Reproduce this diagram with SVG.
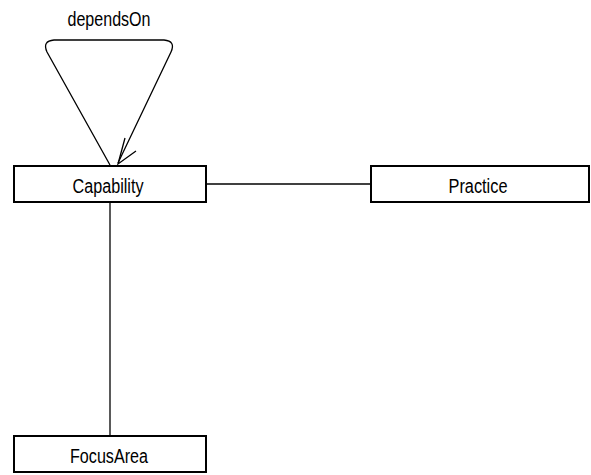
<svg xmlns="http://www.w3.org/2000/svg" width="591" height="475" viewBox="0 0 591 475">
  <style>
    .box { fill: #ffffff; stroke: #000000; stroke-width: 2; }
    .lbl { font-family: "Liberation Sans", Arial, sans-serif; font-size: 20px; fill: #000000; text-anchor: middle; }
    .edge { fill: none; stroke: #000000; stroke-width: 1.3; }
  </style>
  <rect width="591" height="475" fill="#ffffff"/>
  <g id="connectors">
    <!-- self-association on Capability -->
    <path class="edge" d="M110,165 L47,52 Q42,41 54,40 L164,40 Q176,41 171,52 L118,163"/>
    <path class="edge" d="M125,138 L118,164 L136,151"/>
    <text class="lbl" x="109" y="26" textLength="83" lengthAdjust="spacingAndGlyphs">dependsOn</text>
    <path class="edge" d="M206,184 L371,184"/>
    <path class="edge" d="M110,202 L110,436"/>
  </g>
  <g id="Capability">
    <rect class="box" x="14" y="166" width="192" height="36"/>
    <text class="lbl" x="108" y="193" textLength="71" lengthAdjust="spacingAndGlyphs">Capability</text>
  </g>
  <g id="Practice">
    <rect class="box" x="371" y="166" width="218" height="36"/>
    <text class="lbl" x="478" y="193" textLength="59" lengthAdjust="spacingAndGlyphs">Practice</text>
  </g>
  <g id="FocusArea">
    <rect class="box" x="14" y="436" width="192" height="36"/>
    <text class="lbl" x="109" y="463" textLength="78" lengthAdjust="spacingAndGlyphs">FocusArea</text>
  </g>
</svg>
